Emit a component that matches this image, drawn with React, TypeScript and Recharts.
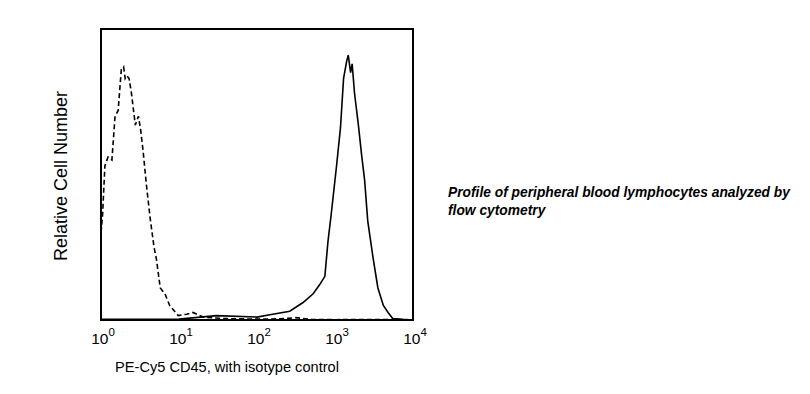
import { LineChart, Line, XAxis, YAxis, ReferenceArea } from "recharts";

// x in decades (log10 of fluorescence), y = relative cell number (% of box height)
const isotypeX = [0, 0.02, 0.05, 0.09, 0.14, 0.18, 0.22, 0.26, 0.29, 0.31, 0.33, 0.36, 0.39, 0.44, 0.48, 0.51, 0.54, 0.58, 0.63, 0.68, 0.71, 0.76, 0.82, 0.88, 0.99, 1.1, 1.18, 1.31, 1.57, 2.0, 2.3, 2.5, 2.7, 3.0, 3.5, 4.0];
const isotypeY = [30, 36, 53, 56, 55, 70, 72, 86, 87, 83, 84, 83, 78, 67, 70, 65, 58, 47, 35, 25, 21, 11, 9, 5, 1.5, 2, 2.6, 1, 0.5, 0.3, 0.4, 0.8, 0.2, 0.1, 0.2, 0];

const cd45X = [0, 0.5, 1.0, 1.48, 2.0, 2.2, 2.42, 2.59, 2.72, 2.8, 2.87, 2.91, 2.95, 3.02, 3.07, 3.11, 3.15, 3.17, 3.2, 3.22, 3.25, 3.3, 3.34, 3.38, 3.42, 3.49, 3.55, 3.62, 3.68, 3.74, 3.87, 4.0];
const cd45Y = [0.2, 0.2, 0.3, 1.5, 1, 2, 3, 6, 9, 12, 15, 27, 36, 53, 66, 83, 89, 91, 85, 88, 78, 67, 57, 48, 34, 21, 11, 5, 2.6, 0.5, 0.2, 0];

const decadeTicks = [0, 1, 2, 3, 4];

const isotype = isotypeX.map((x, i) => ({ x, y: isotypeY[i] }));
const cd45 = cd45X.map((x, i) => ({ x, y: cd45Y[i] }));

const FONT = "'Liberation Sans', Arial, sans-serif";

function DecadeTick({ x, y, payload }: any) {
  return (
    <text x={x + 2} y={y + 16} textAnchor="middle" fontFamily={FONT} fontSize={15.5} fill="#000">
      10
      <tspan dy={-8} fontSize={11.5}>{payload.value}</tspan>
    </text>
  );
}

export default function App() {
  return (
    <div style={{ position: "absolute", left: 0, top: 0, width: 810, height: 394, background: "#fff" }}>
      <LineChart width={430} height={394} margin={{ top: 29, right: 17, left: 101, bottom: 44 }}>
        <XAxis
          type="number"
          dataKey="x"
          domain={[0, 4]}
          ticks={decadeTicks}
          height={30}
          axisLine={false}
          tickLine={false}
          tick={<DecadeTick />}
          interval={0}
        />
        <YAxis type="number" dataKey="y" domain={[0, 100]} hide />
        <Line
          data={isotype}
          dataKey="y"
          type="linear"
          stroke="#000"
          strokeWidth={1.6}
          strokeDasharray="5 3"
          dot={false}
          isAnimationActive={false}
        />
        <Line
          data={cd45}
          dataKey="y"
          type="linear"
          stroke="#000"
          strokeWidth={1.6}
          dot={false}
          isAnimationActive={false}
        />
        <ReferenceArea x1={0} x2={4} y1={0} y2={100} fill="none" stroke="#000" strokeWidth={2} ifOverflow="visible" />
        <text x={227} y={372} textAnchor="middle" fontFamily={FONT} fontSize={14.6} fill="#000">
          PE-Cy5 CD45, with isotype control
        </text>
        <text
          x={67}
          y={176}
          textAnchor="middle"
          fontFamily={FONT}
          fontSize={18}
          fill="#000"
          transform="rotate(-90 67 176)"
        >
          Relative Cell Number
        </text>
      </LineChart>
      <div
        style={{
          position: "absolute",
          left: 448,
          top: 184,
          width: 355,
          fontFamily: FONT,
          fontSize: 13.8,
          fontWeight: "bold",
          fontStyle: "italic",
          lineHeight: "18px",
          color: "#000",
        }}
      >
        Profile of peripheral blood lymphocytes analyzed by flow cytometry
      </div>
    </div>
  );
}
